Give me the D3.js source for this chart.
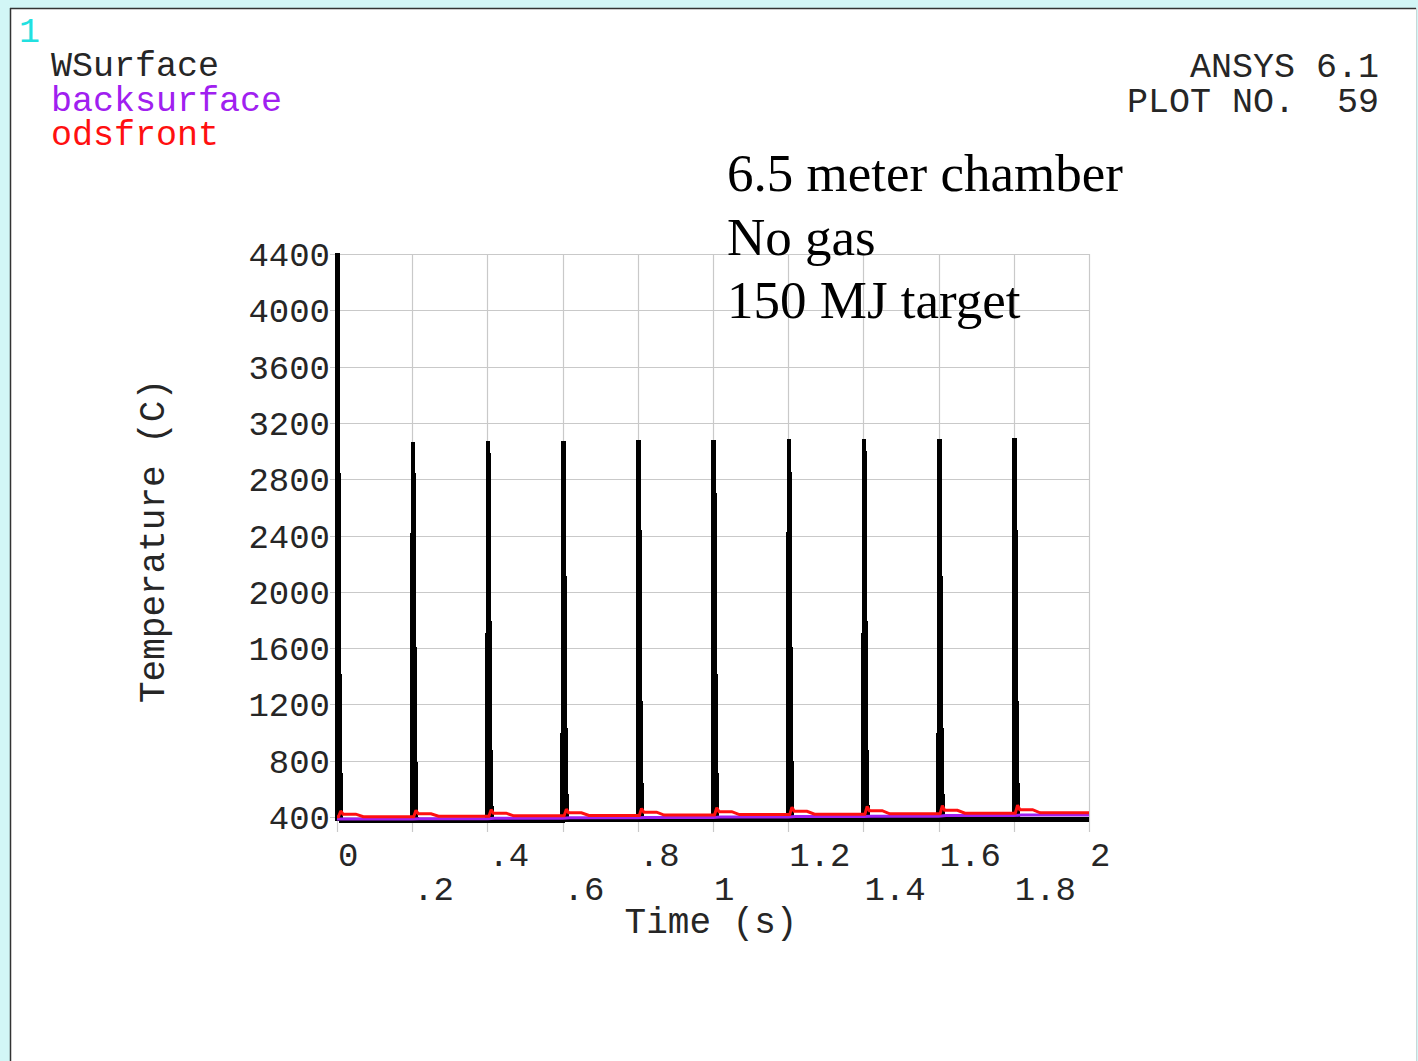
<!DOCTYPE html>
<html>
<head>
<meta charset="utf-8">
<script src="https://cdn.jsdelivr.net/npm/d3@7"></script>
<style>
  html, body { margin: 0; padding: 0; background: #ffffff; }
  svg { display: block; }
</style>
</head>
<body>
<div id="chart"></div>
<script>
// ---- Data: pulsed wall temperatures (C) versus time (s) ----
const pulseTimes = [0, 0.2, 0.4, 0.6, 0.8, 1.0, 1.2, 1.4, 1.6, 1.8];
const endTime = 2.0;

// Tungsten surface: peak right after each shot, then fast decay
const wsurfacePeakOffset = 0.002;
const wsurfacePeak = [4405, 3065, 3068, 3072, 3075, 3078, 3082, 3084, 3086, 3090];
const wsurfaceTailOffsets = [0.0035, 0.005, 0.0075];
const wsurfaceTail = [2660, 1770, 890];
const wsurfaceSettleOffset = 0.011;
const wsurfaceBase = [372, 374, 375, 377, 378, 379, 380, 381, 382, 383];

// Back surface: slow step-up between shots
const backsurfaceLevel = [385, 388, 391, 394, 397, 400, 403, 406, 410, 414];
const backsurfaceStepOffset = 0.02;

// ODS front: small bump after every shot
const odsfrontBase = [402, 405, 408, 411, 414, 417, 420, 423, 427, 430];
const odsfrontPeak = [443, 448, 452, 456, 461, 466, 470, 475, 480, 485];
const odsfrontPlateau = [420, 423, 427, 430, 434, 438, 441, 445, 448, 452];
const odsfrontOffsets = [0.004, 0.010, 0.016, 0.050, 0.070];

// Axes
const yTicks = [400, 800, 1200, 1600, 2000, 2400, 2800, 3200, 3600, 4000, 4400];
const xTicks = [0, 0.2, 0.4, 0.6, 0.8, 1.0, 1.2, 1.4, 1.6, 1.8, 2.0];
const xTickLabels = ["0", ".2", ".4", ".6", ".8", "1", "1.2", "1.4", "1.6", "1.8", "2"];

// Legend / labels
const seriesNames = ["WSurface", "backsurface", "odsfront"];
const seriesColors = ["#000000", "#a020f0", "#ff1010"];
const noteLines = ["6.5 meter chamber", "No gas", "150 MJ target"];
const headerLines = ["ANSYS 6.1", "PLOT NO.  59"];

// ---- Build series point lists from the arrays above ----
const wsurface = [];
pulseTimes.forEach((t0, i) => {
  const before = i === 0 ? wsurfaceBase[0] : wsurfaceBase[i - 1];
  wsurface.push([t0, before]);
  wsurface.push([t0 + wsurfacePeakOffset, wsurfacePeak[i]]);
  wsurfaceTailOffsets.forEach((o, k) => wsurface.push([t0 + o, wsurfaceTail[k]]));
  wsurface.push([t0 + wsurfaceSettleOffset, wsurfaceBase[i]]);
});
wsurface.push([endTime, wsurfaceBase[wsurfaceBase.length - 1]]);

const backsurface = [[0, backsurfaceLevel[0]]];
pulseTimes.forEach((t0, i) => {
  if (i === 0) return;
  backsurface.push([t0, backsurfaceLevel[i - 1]]);
  backsurface.push([t0 + backsurfaceStepOffset, backsurfaceLevel[i]]);
});
backsurface.push([endTime, backsurfaceLevel[backsurfaceLevel.length - 1]]);

const odsfront = [[0, odsfrontBase[0]]];
pulseTimes.forEach((t0, i) => {
  const before = i === 0 ? odsfrontBase[0] : odsfrontBase[i - 1];
  odsfront.push([t0 + odsfrontOffsets[0], before]);
  odsfront.push([t0 + odsfrontOffsets[1], odsfrontPeak[i]]);
  odsfront.push([t0 + odsfrontOffsets[2], odsfrontPlateau[i]]);
  odsfront.push([t0 + odsfrontOffsets[3], odsfrontPlateau[i]]);
  odsfront.push([t0 + odsfrontOffsets[4], odsfrontBase[i]]);
});
odsfront.push([endTime, odsfrontBase[odsfrontBase.length - 1]]);

// ---- Drawing ----
const W = 1418, H = 1061;
const svg = d3.select("#chart").append("svg")
  .attr("width", W).attr("height", H);

// window frame
svg.append("rect").attr("x", 0).attr("y", 0).attr("width", W).attr("height", H)
  .attr("fill", "#d2f6f6");
svg.append("rect").attr("x", 10).attr("y", 8).attr("width", W - 12).attr("height", H - 8)
  .attr("fill", "#ffffff");
svg.append("line").attr("x1", 10.5).attr("x2", 10.5).attr("y1", 8).attr("y2", H)
  .attr("stroke", "#333").attr("stroke-width", 1.5);
svg.append("line").attr("x1", 10).attr("x2", W - 2).attr("y1", 8.5).attr("y2", 8.5)
  .attr("stroke", "#333").attr("stroke-width", 1.5);
svg.append("line").attr("x1", W - 1.5).attr("x2", W - 1.5).attr("y1", 8).attr("y2", H)
  .attr("stroke", "#c8d8d8").attr("stroke-width", 1);

const x = d3.scaleLinear().domain([0, 2]).range([337, 1089]);
const y = d3.scaleLinear().domain([400, 4400]).range([817, 254]);

const mono = "'Liberation Mono', 'DejaVu Sans Mono', monospace";
const serif = "'Liberation Serif', 'DejaVu Serif', serif";
const ink = "#262626";

// grid
const grid = svg.append("g").attr("stroke", "#c9c9c9").attr("stroke-width", 1.2);
grid.selectAll("line.h").data(yTicks).join("line").attr("class", "h")
  .attr("x1", 330).attr("x2", x(2))
  .attr("y1", d => Math.round(y(d)) + 0.5).attr("y2", d => Math.round(y(d)) + 0.5);
grid.selectAll("line.v").data(xTicks).join("line").attr("class", "v")
  .attr("x1", d => Math.round(x(d)) + 0.5).attr("x2", d => Math.round(x(d)) + 0.5)
  .attr("y1", y(4400)).attr("y2", 832);

// y tick labels
svg.append("g").selectAll("text").data(yTicks).join("text")
  .attr("x", 330).attr("y", d => y(d) + 12)
  .attr("text-anchor", "end")
  .attr("font-family", mono).attr("font-size", 34).attr("fill", ink)
  .text(d => d);

// x tick labels (staggered rows)
svg.append("g").selectAll("text").data(xTicks).join("text")
  .attr("x", d => x(d) + 1)
  .attr("y", (d, i) => i % 2 === 0 ? 866 : 900)
  .attr("font-family", mono).attr("font-size", 34).attr("fill", ink)
  .text((d, i) => xTickLabels[i]);

// axis titles
svg.append("text").attr("x", 711).attr("y", 933).attr("text-anchor", "middle")
  .attr("font-family", mono).attr("font-size", 36).attr("fill", ink)
  .text("Time (s)");
svg.append("text").attr("transform", "translate(164,541) rotate(-90)")
  .attr("text-anchor", "middle")
  .attr("font-family", mono).attr("font-size", 36).attr("fill", ink)
  .text("Temperature (C)");

// curves
const line = d3.line().x(d => x(d[0])).y(d => y(d[1]));
const seriesData = [wsurface, backsurface, odsfront];
const widths = [4.5, 3, 3];
seriesData.forEach((pts, i) => {
  svg.append("path").datum(pts)
    .attr("d", line)
    .attr("fill", "none")
    .attr("stroke", seriesColors[i])
    .attr("stroke-width", widths[i])
    .attr("stroke-linejoin", "miter")
    .attr("stroke-miterlimit", 2)
    .attr("shape-rendering", i === 0 ? "crispEdges" : "auto");
});

// legend
svg.append("text").attr("x", 19).attr("y", 42)
  .attr("font-family", mono).attr("font-size", 35).attr("fill", "#22e0e0")
  .text("1");
svg.append("g").selectAll("text").data(seriesNames).join("text")
  .attr("x", 51).attr("y", (d, i) => 76 + i * 34.5)
  .attr("font-family", mono).attr("font-size", 35)
  .attr("fill", (d, i) => i === 0 ? ink : seriesColors[i])
  .text(d => d);

// header at top right
svg.append("g").selectAll("text").data(headerLines).join("text")
  .attr("x", 1379).attr("y", (d, i) => 77 + i * 34.5)
  .attr("text-anchor", "end")
  .attr("font-family", mono).attr("font-size", 35).attr("fill", ink)
  .style("white-space", "pre")
  .text(d => d);

// case notes
svg.append("g").selectAll("text").data(noteLines).join("text")
  .attr("x", 727).attr("y", (d, i) => 191 + i * 63.5)
  .attr("font-family", serif).attr("font-size", 53).attr("fill", "#000")
  .text(d => d);
</script>
</body>
</html>
